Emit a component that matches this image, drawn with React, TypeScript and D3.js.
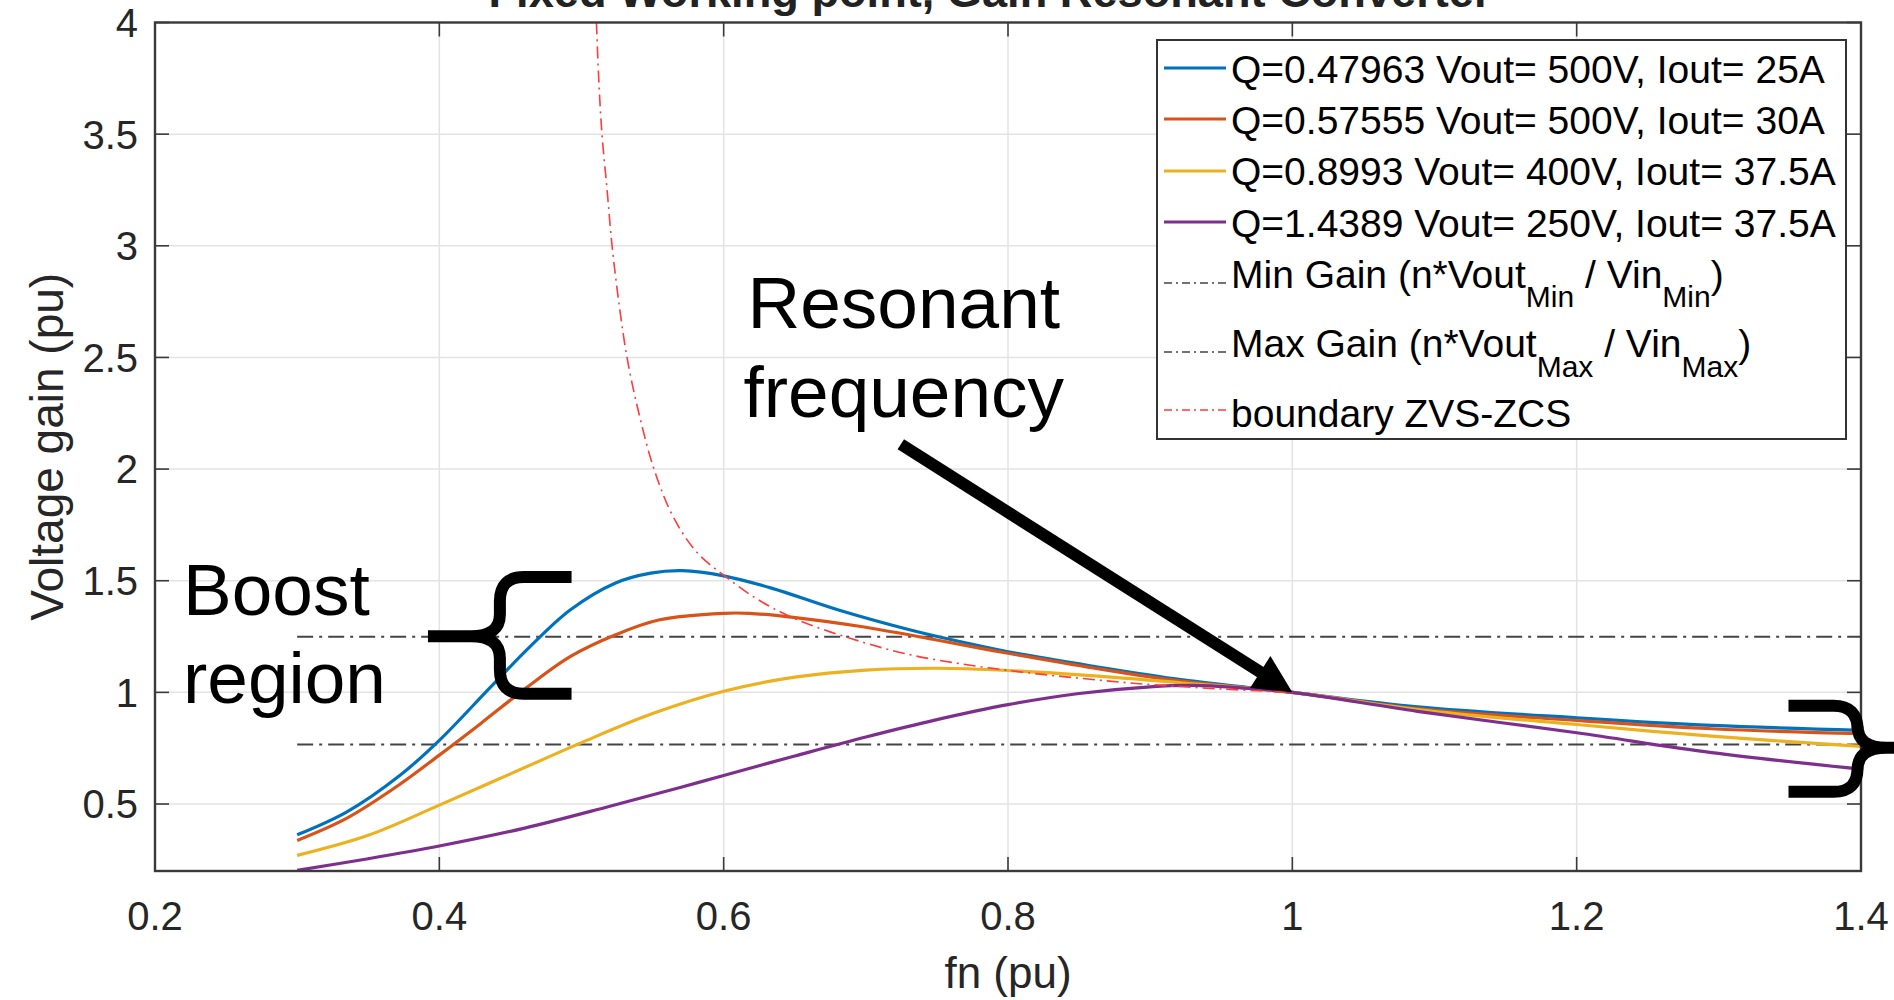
import React from 'react';
import * as d3 from 'd3';

// ---------- data ----------
const xTicks = [0.2, 0.4, 0.6, 0.8, 1.0, 1.2, 1.4];
const xTickLabels = ['0.2', '0.4', '0.6', '0.8', '1', '1.2', '1.4'];
const yTicks = [0.5, 1, 1.5, 2, 2.5, 3, 3.5, 4];
const yTickLabels = ['0.5', '1', '1.5', '2', '2.5', '3', '3.5', '4'];

const fnQ1 = [0.300, 0.335, 0.3726, 0.400, 0.4355, 0.4638, 0.492, 0.5236, 0.5487, 0.5708, 0.600, 0.6336, 0.6808, 0.728, 0.7574, 0.800, 0.861, 0.923, 1.000, 1.088, 1.200, 1.295, 1.400];
const gainQ1 = [0.362, 0.465, 0.630, 0.785, 1.020, 1.205, 1.369, 1.489, 1.534, 1.545, 1.522, 1.467, 1.369, 1.285, 1.240, 1.182, 1.116, 1.056, 1.000, 0.935, 0.886, 0.852, 0.830];

const fnQ2 = [0.300, 0.335, 0.3726, 0.400, 0.4292, 0.4607, 0.492, 0.5236, 0.555, 0.600, 0.618, 0.649, 0.6965, 0.7437, 0.781, 0.800, 0.861, 0.923, 1.000, 1.088, 1.200, 1.295, 1.400];
const gainQ2 = [0.337, 0.437, 0.590, 0.719, 0.861, 1.018, 1.160, 1.257, 1.325, 1.354, 1.354, 1.336, 1.295, 1.242, 1.197, 1.175, 1.108, 1.049, 1.000, 0.927, 0.874, 0.837, 0.815];

const fnQ3 = [0.300, 0.350, 0.400, 0.450, 0.500, 0.550, 0.600, 0.650, 0.700, 0.750, 0.800, 0.861, 0.923, 1.000, 1.088, 1.200, 1.295, 1.400];
const gainQ3 = [0.270, 0.360, 0.495, 0.635, 0.775, 0.905, 1.005, 1.068, 1.100, 1.108, 1.098, 1.074, 1.042, 1.000, 0.923, 0.856, 0.804, 0.758];

const fnQ4 = [0.300, 0.350, 0.400, 0.460, 0.520, 0.570, 0.600, 0.650, 0.700, 0.750, 0.800, 0.850, 0.900, 0.930, 0.960, 1.000, 1.088, 1.200, 1.295, 1.400];
const gainQ4 = [0.203, 0.255, 0.312, 0.392, 0.490, 0.575, 0.628, 0.715, 0.800, 0.878, 0.945, 0.995, 1.025, 1.031, 1.022, 1.000, 0.915, 0.819, 0.730, 0.656];

const fnZVS = [0.5105, 0.5121, 0.5144, 0.518, 0.5215, 0.5262, 0.532, 0.540, 0.551, 0.565, 0.5815, 0.600, 0.623, 0.650, 0.690, 0.730, 0.770, 0.811, 0.851, 0.890, 0.950, 1.000];
const gainZVS = [4.0, 3.75, 3.5, 3.25, 3.0, 2.75, 2.5, 2.26, 2.0, 1.78, 1.625, 1.525, 1.42, 1.33, 1.24, 1.17, 1.125, 1.09, 1.063, 1.04, 1.015, 1.0];

const fnLimitRange = [0.3, 1.4];
const gainMinLimit = 1.249;
const gainMaxLimit = 0.767;

const seriesNames = [
  'Q=0.47963 Vout= 500V, Iout= 25A',
  'Q=0.57555 Vout= 500V, Iout= 30A',
  'Q=0.8993 Vout= 400V, Iout= 37.5A',
  'Q=1.4389 Vout= 250V, Iout= 37.5A',
];
const seriesColors = ['#0072BD', '#D95319', '#EDB120', '#7E2F8E'];

// annotation anchors in data units
const boostTextPos = { fn: 0.2197, line1: 1.3485, line2: 0.9537 };
const resonantTextPos = { fn: 0.7267, line1: 2.6316, line2: 2.2323 };
const arrowStart = { fn: 0.7246, gain: 2.111 };
const arrowTip = { fn: 1.0, gain: 1.0 };
const leftBrace = { tip: 0.392, stem: 0.4426, arm: 0.493, top: 1.543, mid: 1.251, bot: 0.967 };
const rightBrace = { tip: 1.435, stem: 1.3976, arm: 1.349, top: 0.967, mid: 0.752, bot: 0.5275 };

const FONT = "'Liberation Sans', Arial, Helvetica, sans-serif";

export default function App() {
  const W = 1894, H = 1000;
  const L = 155, R = 1861, T = 22.5, B = 871;
  const x = d3.scaleLinear().domain([0.2, 1.4]).range([L, R]);
  const y = d3.scaleLinear().domain([0.2, 4]).range([B, T]);

  const line = d3.line<[number, number]>()
    .x(d => x(d[0])).y(d => y(d[1])).curve(d3.curveCatmullRom.alpha(0.5));
  const mk = (xs: number[], ys: number[]) => line(xs.map((v, i) => [v, ys[i]] as [number, number])) || '';

  const series = [
    mk(fnQ1, gainQ1), mk(fnQ2, gainQ2), mk(fnQ3, gainQ3), mk(fnQ4, gainQ4),
  ];
  const zvs = mk(fnZVS, gainZVS);

  const tickLen = 14;
  const axisColor = '#3a3a3a';

  // arrow geometry
  const ax0 = x(arrowStart.fn), ay0 = y(arrowStart.gain);
  const ax1 = x(arrowTip.fn), ay1 = y(arrowTip.gain);
  const len = Math.hypot(ax1 - ax0, ay1 - ay0);
  const ux = (ax1 - ax0) / len, uy = (ay1 - ay0) / len;
  const headL = 38, headW = 19;
  const bx = ax1 - headL * ux, by = ay1 - headL * uy;
  const head = `M${ax1},${ay1} L${bx - headW * uy},${by + headW * ux} L${bx + headW * uy},${by - headW * ux} Z`;

  // brace paths
  const bracePath = (b: typeof leftBrace, dir: number) => {
    const tip = x(b.tip), stem = x(b.stem), arm = x(b.arm);
    const top = y(b.top) + 6, mid = y(b.mid), bot = y(b.bot) - 6;
    const r = 24 * dir;
    return [
      `M${arm},${top} L${stem + r},${top} Q${stem},${top} ${stem},${top + 24}`,
      `L${stem},${mid - 22} Q${stem},${mid} ${stem - r * 1.2},${mid} L${tip},${mid}`,
      `M${stem - r * 1.2},${mid} Q${stem},${mid} ${stem},${mid + 22}`,
      `L${stem},${bot - 24} Q${stem},${bot} ${stem + r},${bot} L${arm},${bot}`,
    ].join(' ');
  };

  const legendL = 1157, legendR = 1846, legendT = 40, legendB = 439;
  const lgX0 = 1164, lgX1 = 1226, lgText = 1231;
  const rowBase = [83, 134, 185, 237, 288, 357, 427];
  const rowLine = [68, 119, 171, 222, 283, 352, 410];

  return (
    <svg width={W} height={H} style={{ position: 'absolute', left: 0, top: 0, background: '#fff' }}
      fontFamily={FONT}>
      <defs>
        <clipPath id="plotclip">
          <rect x={L} y={T} width={R - L} height={B - T} />
        </clipPath>
      </defs>
      <rect x={0} y={0} width={W} height={H} fill="#fff" />

      {/* title, mostly cut off at top as in the reference */}
      <text x={990} y={7} textAnchor="middle" fontWeight="bold" fontSize={44} fill="#222"
        textLength={1003} lengthAdjust="spacingAndGlyphs">
        Fixed Working point, Gain Resonant Converter
      </text>

      {/* grid */}
      <g stroke="#e3e3e3" strokeWidth={1.5}>
        {xTicks.map(t => <line key={'gx' + t} x1={x(t)} x2={x(t)} y1={T} y2={B} />)}
        {yTicks.map(t => <line key={'gy' + t} x1={L} x2={R} y1={y(t)} y2={y(t)} />)}
      </g>

      {/* limit lines and curves */}
      <g clipPath="url(#plotclip)" fill="none">
        {[gainMinLimit, gainMaxLimit].map((g, i) => (
          <line key={'lim' + i} x1={x(fnLimitRange[0])} x2={x(fnLimitRange[1])} y1={y(g)} y2={y(g)}
            stroke="#444" strokeWidth={2} strokeDasharray="16 6 3 6" />
        ))}
        {series.map((d, i) => (
          <path key={'s' + i} d={d} stroke={seriesColors[i]} strokeWidth={3.2} />
        ))}
        <path d={zvs} stroke="#ff3b3b" strokeWidth={1.6} strokeDasharray="12 5 2 5" />
      </g>

      {/* axes box and ticks */}
      <g stroke={axisColor} strokeWidth={1.6}>
        {xTicks.map(t => (
          <g key={'tx' + t}>
            <line x1={x(t)} x2={x(t)} y1={B} y2={B - tickLen} />
            <line x1={x(t)} x2={x(t)} y1={T} y2={T + tickLen} />
          </g>
        ))}
        {yTicks.map(t => (
          <g key={'ty' + t}>
            <line x1={L} x2={L + tickLen} y1={y(t)} y2={y(t)} />
            <line x1={R} x2={R - tickLen} y1={y(t)} y2={y(t)} />
          </g>
        ))}
      </g>
      <rect x={L} y={T} width={R - L} height={B - T} fill="none" stroke={axisColor} strokeWidth={2.4} />

      {/* tick labels */}
      <g fontSize={40} fill="#262626">
        {xTicks.map((t, i) => (
          <text key={'lx' + t} x={x(t)} y={930} textAnchor="middle">{xTickLabels[i]}</text>
        ))}
        {yTicks.map((t, i) => (
          <text key={'ly' + t} x={138} y={y(t)} dy="0.36em" textAnchor="end">{yTickLabels[i]}</text>
        ))}
      </g>
      <text x={(L + R) / 2} y={988} textAnchor="middle" fontSize={44} fill="#262626">fn (pu)</text>
      <text transform={`translate(63, ${(T + B) / 2}) rotate(-90)`} textAnchor="middle" fontSize={46} fill="#262626">
        Voltage gain (pu)
      </text>

      {/* legend */}
      <rect x={legendL} y={legendT} width={legendR - legendL} height={legendB - legendT} fill="#fff"
        stroke="#333" strokeWidth={2} />
      <g fontSize={39} fill="#000">
        {seriesNames.map((n, i) => (
          <g key={'lg' + i}>
            <line x1={lgX0} x2={lgX1} y1={rowLine[i]} y2={rowLine[i]} stroke={seriesColors[i]} strokeWidth={3.2} />
            <text x={lgText} y={rowBase[i]}>{n}</text>
          </g>
        ))}
        <line x1={lgX0} x2={lgX1} y1={rowLine[4]} y2={rowLine[4]} stroke="#444" strokeWidth={1.6} strokeDasharray="8 4 2 4" />
        <text x={lgText} y={rowBase[4]}>
          Min Gain (n*Vout<tspan fontSize={30} dy={19}>Min</tspan><tspan dy={-19}> / Vin</tspan><tspan fontSize={30} dy={19}>Min</tspan><tspan dy={-19}>)</tspan>
        </text>
        <line x1={lgX0} x2={lgX1} y1={rowLine[5]} y2={rowLine[5]} stroke="#444" strokeWidth={1.6} strokeDasharray="8 4 2 4" />
        <text x={lgText} y={rowBase[5]}>
          Max Gain (n*Vout<tspan fontSize={30} dy={20}>Max</tspan><tspan dy={-20}> / Vin</tspan><tspan fontSize={30} dy={20}>Max</tspan><tspan dy={-20}>)</tspan>
        </text>
        <line x1={lgX0} x2={lgX1} y1={rowLine[6]} y2={rowLine[6]} stroke="#ff3b3b" strokeWidth={1.6} strokeDasharray="8 4 2 4" />
        <text x={lgText} y={rowBase[6]}>boundary ZVS-ZCS</text>
      </g>

      {/* annotations */}
      <g fontSize={73} fill="#000">
        <text x={x(boostTextPos.fn)} y={y(boostTextPos.line1)}>Boost</text>
        <text x={x(boostTextPos.fn)} y={y(boostTextPos.line2)}>region</text>
        <text x={x(resonantTextPos.fn)} y={y(resonantTextPos.line1)} textAnchor="middle">Resonant</text>
        <text x={x(resonantTextPos.fn)} y={y(resonantTextPos.line2)} textAnchor="middle">frequency</text>
      </g>
      <line x1={ax0} y1={ay0} x2={bx + 4 * ux} y2={by + 4 * uy} stroke="#000" strokeWidth={12} />
      <path d={head} fill="#000" />
      <path d={bracePath(leftBrace, 1)} fill="none" stroke="#000" strokeWidth={12} />
      <path d={bracePath(rightBrace, -1)} fill="none" stroke="#000" strokeWidth={12} />
    </svg>
  );
}
